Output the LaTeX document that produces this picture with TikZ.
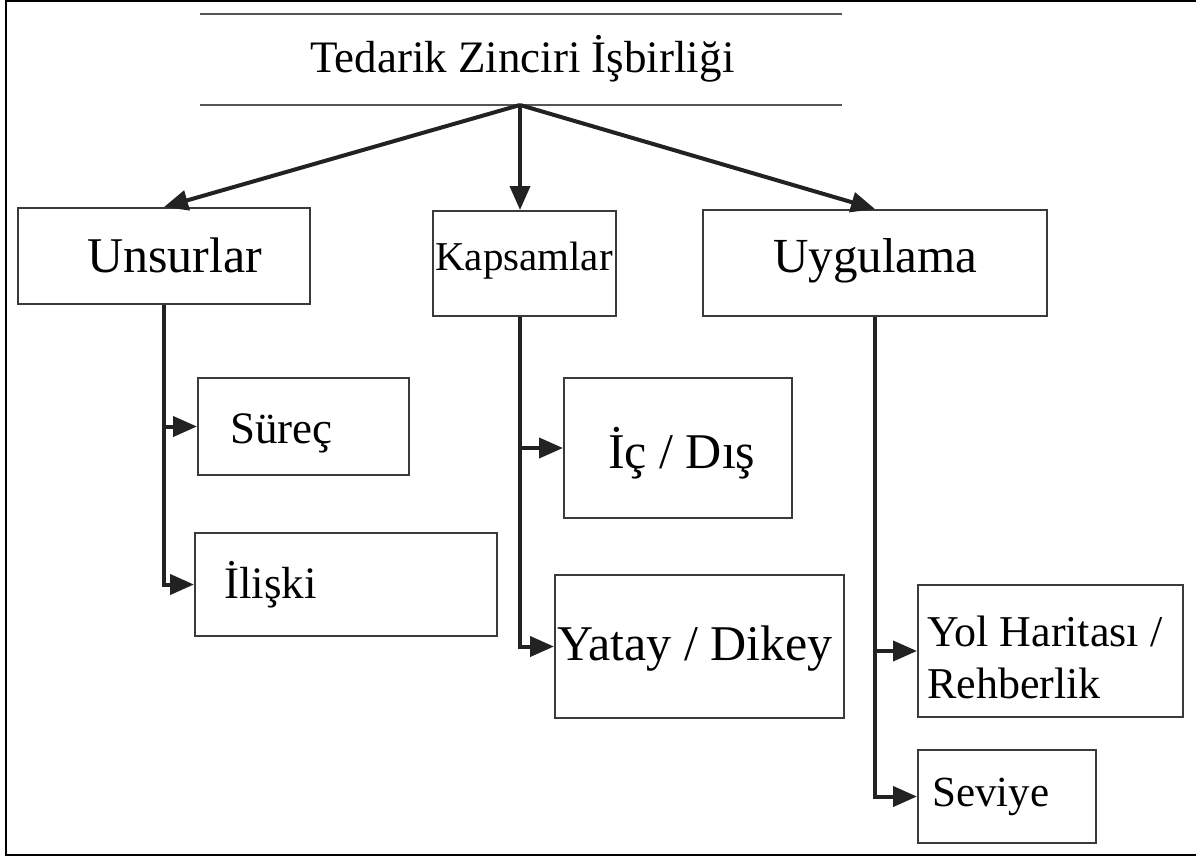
\documentclass[tikz,border=0pt]{standalone}
\usepackage{fontspec}
\setmainfont{Liberation Serif}
\usetikzlibrary{arrows.meta}
\definecolor{boxline}{HTML}{3A3A3A}
\definecolor{arrline}{HTML}{222222}
\definecolor{rule}{HTML}{555555}
\tikzset{
  box/.style={draw=boxline, line width=2pt, inner sep=0pt, rectangle},
  arr/.style={draw=arrline, line width=4pt, -{Triangle[length=24pt,width=20pt]}},
  lbl/.style={inner sep=0pt, anchor=base west, text=black},
  fs/.style={font=\fontsize{#1}{#1}\selectfont}
}
\begin{document}
\begin{tikzpicture}[x=1pt,y=-1pt]
\useasboundingbox (0,0) rectangle (1196,857);
% outer frame
\draw[line width=2.5pt, black] (1196,1) -- (6,1) -- (6,855) -- (1196,855);
% title rules
\draw[rule, line width=2pt] (200,14) -- (842,14);
\draw[rule, line width=2pt] (200,105) -- (842,105);
\coordinate (apex) at (520,105);
\node[lbl, fs=45] (title) at (310,72) {Tedarik Zinciri İşbirliği};

% boxes
\node[box, minimum width=292pt, minimum height=96pt] (unsurlar) at (164,256) {};
\node[box, minimum width=183pt, minimum height=105pt] (kapsamlar) at (524.5,263.5) {};
\node[box, minimum width=344pt, minimum height=106pt] (uygulama) at (875,263) {};
\node[box, minimum width=211pt, minimum height=97pt] (surec) at (303.5,426.5) {};
\node[box, minimum width=302pt, minimum height=103pt] (iliski) at (346,584.5) {};
\node[box, minimum width=228pt, minimum height=140pt] (icdis) at (678,448) {};
\node[box, minimum width=289pt, minimum height=143pt] (yatay) at (699.5,646.5) {};
\node[box, minimum width=265pt, minimum height=132pt] (yol) at (1050.5,651) {};
\node[box, minimum width=178pt, minimum height=93pt] (seviye) at (1007,796.5) {};

% labels
\node[lbl, fs=50] (tU) at (87,272) {Unsurlar};
\node[lbl, fs=41] (tK) at (435,270) {Kapsamlar};
\node[lbl, fs=49] (tG) at (773,272) {Uygulama};
\node[lbl, fs=45] (tS) at (230,443) {Süreç};
\node[lbl, fs=45] (tI) at (224,598) {İlişki};
\node[lbl, fs=50] (tD) at (608,468) {İç / Dış};
\node[lbl, fs=50] (tY) at (557,660) {Yatay / Dikey};
\node[lbl, font=\fontsize{44}{52}\selectfont, align=left] (tR) at (927,698) {Yol Haritası /\\Rehberlik};
\node[lbl, fs=43] (tV) at (932,806) {Seviye};

% top arrows
\draw[arr] (apex) -- (unsurlar.north);
\draw[arr] (apex) -- (kapsamlar.north -| apex);
\draw[arr] (apex) -- (uygulama.north);

% branches
\draw[arr] (unsurlar.south) |- (surec.west);
\draw[arr] (unsurlar.south) |- (iliski.west);
\draw[arr] (kapsamlar.south -| apex) |- (icdis.west);
\draw[arr] (kapsamlar.south -| apex) |- (yatay.west);
\draw[arr] (uygulama.south) |- (yol.west);
\draw[arr] (uygulama.south) |- (seviye.west);
\end{tikzpicture}
\end{document}
